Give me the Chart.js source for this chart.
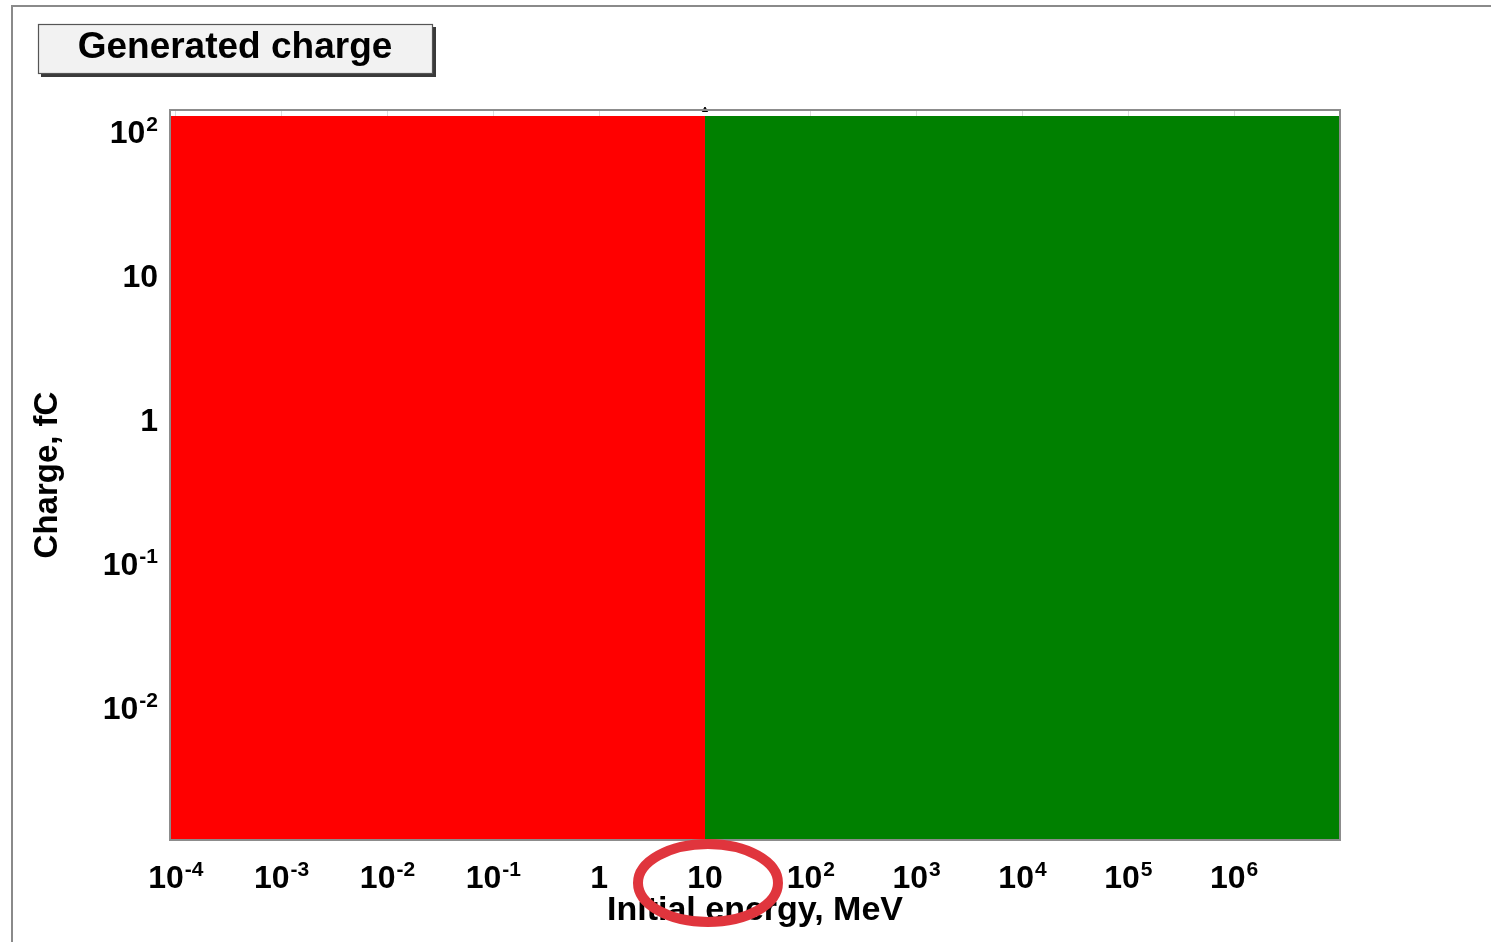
<!DOCTYPE html>
<html><head><meta charset="utf-8">
<script src="https://cdn.jsdelivr.net/npm/chart.js@4.4.1/dist/chart.umd.min.js"></script>
<style>html,body{margin:0;padding:0;background:#fff;}#wrap{position:relative;width:1491px;height:942px;}canvas{display:block;}</style>
</head><body><div id="wrap"><canvas id="c" width="1491" height="942"></canvas></div>
<script>
const chartTitle = 'Generated charge';
const xAxisTitle = 'Initial energy, MeV';
const yAxisTitle = 'Charge, fC';
const xTickValues = [1e-4, 1e-3, 1e-2, 1e-1, 1, 10, 1e2, 1e3, 1e4, 1e5, 1e6];
// [base, exponent] for each x tick label
const xTickLabels = [['10','-4'], ['10','-3'], ['10','-2'], ['10','-1'], ['1',''], ['10',''], ['10','2'], ['10','3'], ['10','4'], ['10','5'], ['10','6']];
const yTickValues = [1e-2, 1e-1, 1, 10, 1e2];
const yTickLabels = [['10','-2'], ['10','-1'], ['1',''], ['10',''], ['10','2']];
const xRange = [8.8102e-5, 1e7];
const yRange = [0.00119, 142];
const lowEnergyX = [8.8102e-5, 10];
const lowEnergyCharge = [129, 129];
const highEnergyX = [10, 1e7];
const highEnergyCharge = [129, 129];
const markerX = [10];
const markerY = [142];
const highlightedTick = 10;

const FONT = '"Liberation Sans", Arial, "DejaVu Sans", sans-serif';

function pts(xs, ys) { return xs.map((x, i) => ({x: x, y: ys[i]})); }

function drawSupLabel(ctx, parts, x, baseY, align) {
  const baseFont = 'bold 32px ' + FONT, expFont = 'bold 21px ' + FONT;
  ctx.font = baseFont;
  const wb = ctx.measureText(parts[0]).width;
  ctx.font = expFont;
  const we = parts[1] ? ctx.measureText(parts[1]).width + 1 : 0;
  const total = wb + we;
  let x0 = align === 'right' ? x - total : x - total / 2;
  ctx.textAlign = 'left';
  ctx.textBaseline = 'alphabetic';
  ctx.font = baseFont;
  ctx.fillText(parts[0], x0, baseY);
  if (parts[1]) {
    ctx.font = expFont;
    ctx.fillText(parts[1], x0 + wb + 1, baseY - 12);
  }
}

const decor = {
  id: 'decor',
  beforeDraw(chart) {
    const ctx = chart.ctx;
    ctx.save();
    ctx.fillStyle = '#fff';
    ctx.fillRect(0, 0, chart.width, chart.height);
    ctx.strokeStyle = '#8a8a8a';
    ctx.lineWidth = 2;
    ctx.beginPath();
    ctx.moveTo(12, chart.height);
    ctx.lineTo(12, 6);
    ctx.lineTo(chart.width, 6);
    ctx.stroke();
    ctx.fillStyle = '#3a3a3a';
    ctx.fillRect(41, 27, 395, 50);
    ctx.fillStyle = '#f2f2f2';
    ctx.fillRect(38, 24, 395, 50);
    ctx.strokeStyle = '#555';
    ctx.lineWidth = 1.2;
    ctx.strokeRect(38.5, 24.5, 394, 49);
    ctx.fillStyle = '#000';
    ctx.font = 'bold 37px ' + FONT;
    ctx.textAlign = 'center';
    ctx.textBaseline = 'alphabetic';
    ctx.fillText(chartTitle, 235, 58);
    ctx.restore();
  },
  afterDraw(chart) {
    const ctx = chart.ctx;
    const a = chart.chartArea;
    const xs = chart.scales.x, ys = chart.scales.y;
    ctx.save();
    ctx.strokeStyle = '#8c8c8c';
    ctx.lineWidth = 2;
    ctx.strokeRect(a.left, a.top, a.right - a.left, a.bottom - a.top);
    ctx.fillStyle = '#000';
    xs.ticks.forEach(t => {
      const i = xTickValues.indexOf(t.value);
      if (i >= 0) drawSupLabel(ctx, xTickLabels[i], xs.getPixelForValue(t.value), a.bottom + 48, 'center');
    });
    ys.ticks.forEach(t => {
      const i = yTickValues.indexOf(t.value);
      if (i >= 0) drawSupLabel(ctx, yTickLabels[i], a.left - 12, ys.getPixelForValue(t.value) + 11.5, 'right');
    });
    const cx = xs.getPixelForValue(highlightedTick) + 3;
    ctx.strokeStyle = '#e0353d';
    ctx.lineWidth = 10;
    ctx.beginPath();
    ctx.ellipse(cx, 883, 70, 39, 0, 0, Math.PI * 2);
    ctx.stroke();
    ctx.restore();
  }
};

new Chart(document.getElementById('c'), {
  type: 'line',
  data: {
    datasets: [
      { label: 'low', data: pts(lowEnergyX, lowEnergyCharge), borderWidth: 0, borderColor: '#ff0000',
        backgroundColor: '#ff0000', fill: 'start', pointRadius: 0, order: 2 },
      { label: 'high', data: pts(highEnergyX, highEnergyCharge), borderWidth: 0, borderColor: '#008000',
        backgroundColor: '#008000', fill: 'start', pointRadius: 0, order: 2 },
      { type: 'scatter', label: 'marker', data: pts(markerX, markerY), pointStyle: 'triangle',
        pointRadius: 3, backgroundColor: '#000', borderColor: '#000', clip: false, order: 1 }
    ]
  },
  options: {
    responsive: false,
    animation: false,
    devicePixelRatio: 1,
    layout: { padding: { left: 0, top: 110, right: 151, bottom: 0 } },
    plugins: { legend: { display: false }, title: { display: false }, tooltip: { enabled: false } },
    scales: {
      x: {
        type: 'logarithmic', min: xRange[0], max: xRange[1],
        afterBuildTicks(s) { s.ticks = xTickValues.map(v => ({ value: v })); },
        afterFit(s) { s.height = 102; },
        grid: { display: true, color: ctx => (ctx.tick && ctx.tick.value === highlightedTick) ? 'rgba(0,0,0,0)' : '#dcdcdc', drawTicks: false },
        border: { display: false },
        ticks: { display: false },
        title: { display: true, text: xAxisTitle, color: '#000', padding: { top: 0, bottom: 11 },
          font: { family: FONT, size: 34, weight: 'bold' } }
      },
      y: {
        type: 'logarithmic', min: yRange[0], max: yRange[1],
        afterBuildTicks(s) { s.ticks = yTickValues.map(v => ({ value: v })); },
        afterFit(s) { s.width = 170; },
        grid: { display: true, color: '#dcdcdc', drawTicks: false },
        border: { display: false },
        ticks: { display: false },
        title: { display: true, text: yAxisTitle, color: '#000', padding: { top: 28, bottom: 0 },
          font: { family: FONT, size: 33, weight: 'bold' } }
      }
    }
  },
  plugins: [decor]
});
</script></body></html>
